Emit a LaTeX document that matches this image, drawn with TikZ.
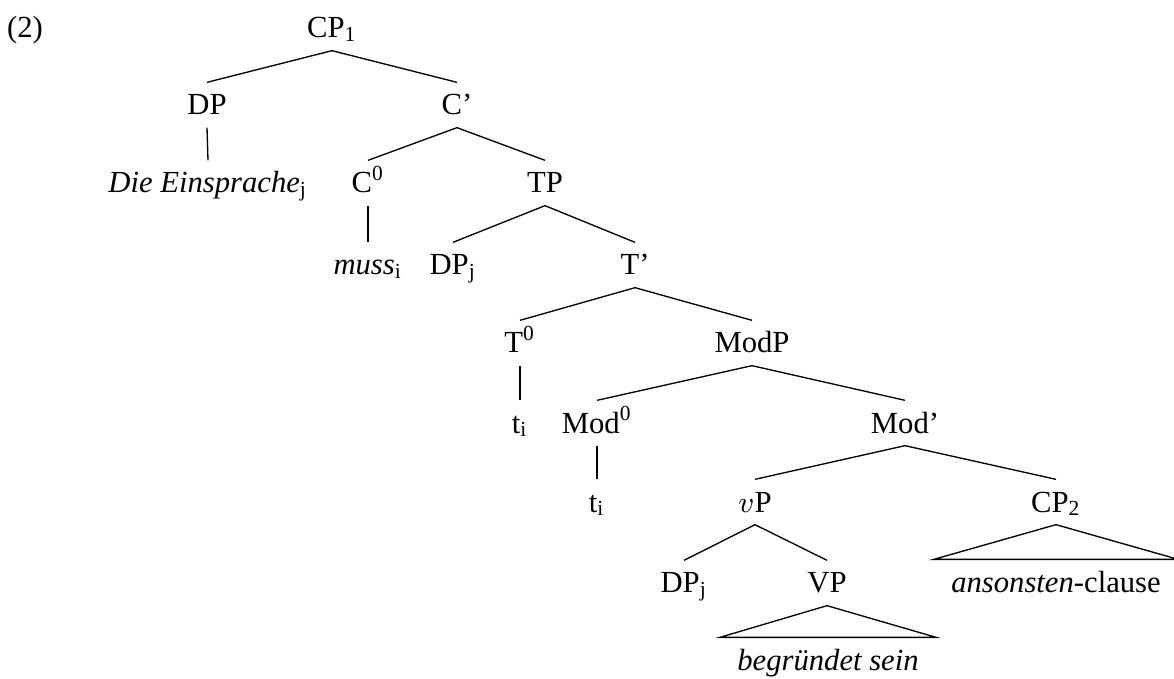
\documentclass[tikz,border=0pt]{standalone}
\usepackage{fontspec}
\setmainfont{Liberation Serif}
\usepackage{tikz}

\begin{document}
\begin{tikzpicture}[x=0.3pt, y=-0.3pt,
    every node/.style={font=\fontsize{9.2pt}{11pt}\selectfont},
    cat/.style={anchor=base, inner ysep=0pt, inner xsep=1pt, text height=9.6pt, text depth=3.6pt},
    branch/.style={line width=0.4pt}]
    \useasboundingbox (0, 0) rectangle (1174, 679);

    % example number
    \node[anchor=base] (ex) at (25, 38) {(2)};

    % CP1 level
    \node[cat] (cp1) at (332, 38) {CP\textsubscript{1}};
    \node[cat] (dp) at (207, 115) {DP};
    \node[cat] (cbar) at (457, 115) {C’};

    % C' level
    \node[cat] (die) at (208, 193) {\textit{Die Einsprache}\textsubscript{j}};
    \node[cat] (c0) at (368, 193) {C\textsuperscript{0}};
    \node[cat] (tp) at (545, 193) {TP};

    % TP level
    \node[cat] (muss) at (368, 275) {\textit{muss}\textsubscript{i}};
    \node[cat] (dpj) at (453, 275) {DP\textsubscript{j}};
    \node[cat] (tbar) at (635, 275) {T’};

    % T' level
    \node[cat] (t0) at (520, 353) {T\textsuperscript{0}};
    \node[cat] (modp) at (752, 353) {ModP};
    \node[cat] (ti1) at (520, 433) {t\textsubscript{i}};
    \node[cat] (mod0) at (597, 433) {Mod\textsuperscript{0}};
    \node[cat] (modbar) at (905, 433) {Mod’};

    % Mod' level
    \node[cat] (ti2) at (597, 512) {t\textsubscript{i}};
    \node[cat] (vp) at (755, 512) {$v$P};
    \node[cat] (cp2) at (1056, 512) {CP\textsubscript{2}};
    \node[cat] (dpj2) at (684, 593) {DP\textsubscript{j}};
    \node[cat] (vpp) at (827, 593) {VP};
    \node[cat] (ans) at (1056, 592) {\textit{ansonsten}-clause};
    \node[cat] (begr) at (828, 670) {\textit{begründet sein}};

    % branches
    \draw [branch] (cp1.south) -- (dp.north);
    \draw [branch] (cp1.south) -- (cbar.north);
    \draw [branch] (dp.south) -- (die.north);
    \draw [branch] (cbar.south) -- (c0.north);
    \draw [branch] (cbar.south) -- (tp.north);
    \draw [branch] (c0.south) -- (muss.north);
    \draw [branch] (tp.south) -- (dpj.north);
    \draw [branch] (tp.south) -- (tbar.north);
    \draw [branch] (tbar.south) -- (t0.north);
    \draw [branch] (tbar.south) -- (modp.north);
    \draw [branch] (t0.south) -- (ti1.north);
    \draw [branch] (modp.south) -- (mod0.north);
    \draw [branch] (modp.south) -- (modbar.north);
    \draw [branch] (mod0.south) -- (ti2.north);
    \draw [branch] (modbar.south) -- (vp.north);
    \draw [branch] (modbar.south) -- (cp2.north);
    \draw [branch] (vp.south) -- (dpj2.north);
    \draw [branch] (vp.south) -- (vpp.north);

    % roof triangles
    \draw [branch] (cp2.south) -- ([xshift=-4pt]ans.north west) -- ([xshift=4pt]ans.north east) -- cycle;
    \draw [branch] (vpp.south) -- ([xshift=-4pt]begr.north west) -- ([xshift=4pt]begr.north east) -- cycle;
\end{tikzpicture}
\end{document}
